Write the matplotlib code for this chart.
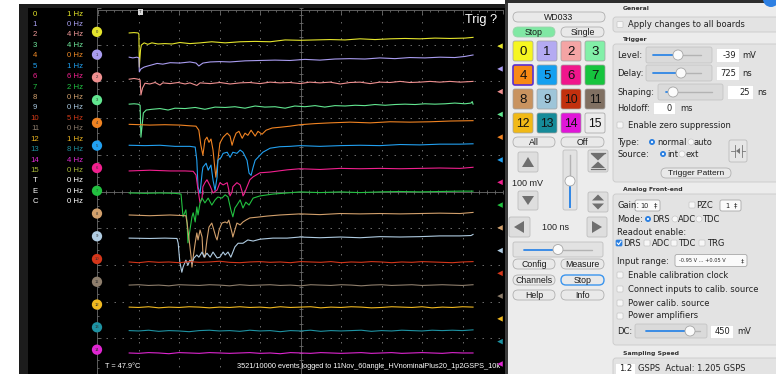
import matplotlib
matplotlib.use("Agg")
import numpy as np
import matplotlib.pyplot as plt
from matplotlib.patches import Rectangle, FancyBboxPatch, Circle, Polygon
from matplotlib.collections import LineCollection

# ---------------------------------------------------------------- data
channel_names = [str(i) for i in range(16)] + ["T", "E", "C"]
channel_rates_hz = [1, 0, 4, 4, 0, 1, 6, 2, 0, 0, 5, 0, 1, 8, 4, 0, 0, 0, 0]
label_colors = ["#e6e62a", "#a9a0f2", "#f29a9a", "#6fe89c", "#f08a26", "#1fa0f0",
                "#f0228e", "#22c444", "#d2a06c", "#a8c8e0", "#d23a18", "#8a7a6a",
                "#f0b822", "#1f909e", "#e02ad2", "#a8b83a", "#ffffff", "#ffffff", "#ffffff"]
trace_colors = ["#e4e42c", "#a99cf0", "#ef9090", "#62e690", "#f08322", "#22a0f0",
                "#f0208e", "#22c040", "#d2a06c", "#b0cce2", "#d4361a", "#8e7e6c",
                "#f0b820", "#1e92a2", "#e026d2"]
button_colors = ["#f6f620", "#b4aaf2", "#f4a4a4", "#82f0a8", "#f88a14", "#14a0f0",
                 "#f0168c", "#16c43e", "#c9935f", "#9ec5d9", "#c2300e", "#807062",
                 "#f1b916", "#168b99", "#e016d8", "#ececec"]

# zero line of each channel on screen (mV)
channel_offset_mv = [435, 373, 311, 249, 187, 125, 64, 2, -60, -122, -184, -246, -308, -370, -431]
trigger_level_mv = -39
trigger_time_ns = 105
mv_per_div = 100
ns_per_div = 100

# traces: (time ns, amplitude mV relative to the channel zero line)
trace_0 = [(77, -3), (89, -2), (99, -3), (101, -6), (102, -96), (105, -49), (107, -36), (114, -30),
           (123, -34), (133, -30), (148, -33), (165, -32), (183, -33), (202, -29), (227, -32),
           (252, -30), (281, -27), (314, -30), (351, -27), (388, -26), (425, -27), (462, -22),
           (499, -23), (536, -22), (573, -21), (610, -22), (647, -19), (684, -21), (721, -19),
           (758, -18), (795, -19), (832, -17), (869, -18), (906, -17), (926, -15)]
trace_1 = [(77, -7), (86, -9), (96, -7), (101, -9), (102, -47), (106, -39), (114, -34), (123, -31),
           (133, -28), (146, -24), (160, -26), (178, -22), (202, -23), (227, -20), (242, -23),
           (249, -31), (259, -23), (277, -20), (301, -19), (326, -20), (363, -17), (400, -16),
           (437, -15), (474, -16), (511, -13), (548, -15), (585, -12), (622, -11), (659, -12),
           (696, -9), (733, -11), (770, -8), (807, -9), (844, -7), (881, -8), (906, -5), (926, -1)]
trace_2 = [(77, -5), (89, -3), (99, -5), (104, -7), (106, -48), (110, -29), (116, -16), (128, -18),
           (141, -14), (153, -21), (160, -15), (178, -17), (198, -14), (215, -18), (227, -15),
           (244, -22), (252, -15), (277, -17), (301, -14), (326, -18), (351, -15), (375, -14),
           (400, -17), (425, -13), (449, -15), (474, -14), (499, -17), (523, -13), (548, -15),
           (573, -13), (598, -18), (622, -14), (647, -13), (672, -17), (696, -13), (721, -14),
           (746, -11), (770, -14), (795, -13), (820, -11), (844, -13), (869, -11), (894, -13),
           (926, -11)]
trace_3 = [(77, -11), (89, -10), (99, -11), (104, -14), (106, -101), (109, -68), (112, -35),
           (119, -27), (133, -25), (153, -23), (173, -27), (190, -22), (215, -23), (240, -20),
           (264, -25), (289, -19), (314, -20), (338, -18), (363, -22), (388, -16), (412, -19),
           (437, -18), (462, -22), (486, -16), (511, -18), (536, -15), (560, -19), (585, -15),
           (610, -16), (635, -14), (659, -15), (684, -12), (709, -14), (733, -12), (758, -11),
           (783, -12), (807, -10), (832, -11), (857, -10), (881, -8), (906, -10), (921, -8),
           (924, -4), (926, -11)]
trace_4 = [(77, -4), (104, -5), (128, -6), (165, -5), (202, -6), (227, -8), (242, -9), (249, -20),
           (254, -61), (259, -88), (264, -47), (269, -39), (274, -53), (279, -44), (284, -74),
           (289, -129), (291, -148), (296, -102), (301, -55), (309, -39), (319, -28), (326, -36),
           (331, -61), (336, -42), (341, -28), (348, -23), (356, -42), (363, -28), (370, -34),
           (378, -20), (388, -36), (395, -23), (405, -31), (415, -20), (430, -14), (449, -12),
           (474, -9), (499, -5), (536, -2), (573, 0), (622, 2), (672, 0), (721, 3), (770, 2),
           (820, 3), (869, 5), (926, 6)]
trace_5 = [(77, 1), (116, 0), (153, 1), (190, -2), (227, -2), (240, -4), (244, -40), (247, -113),
           (252, -130), (257, -75), (259, -59), (267, -48), (272, -67), (279, -53), (284, -94),
           (289, -122), (294, -86), (296, -40), (304, -32), (309, -21), (319, -18), (326, -32),
           (333, -18), (343, -21), (351, -12), (358, -18), (368, -40), (373, -75), (378, -81),
           (383, -59), (388, -40), (395, -32), (407, -18), (425, -7), (449, -3), (474, -2),
           (499, 0), (548, -2), (598, 0), (647, 1), (696, 0), (746, 3), (795, 2), (844, 4),
           (894, 4), (926, 5)]
trace_6 = [(77, -8), (128, -6), (178, -8), (215, -8), (235, -9), (242, -19), (247, -60), (252, -95),
           (257, -81), (259, -51), (264, -40), (269, -32), (277, -49), (284, -68), (294, -60),
           (301, -40), (309, -46), (319, -40), (323, -60), (326, -76), (331, -65), (333, -51),
           (343, -40), (351, -46), (356, -65), (358, -76), (363, -65), (368, -51), (375, -32),
           (383, -24), (400, -13), (425, -11), (467, -5), (499, -2), (548, -4), (598, -1),
           (647, -2), (696, -1), (746, -2), (795, -1), (844, 0), (894, -1), (926, 2)]
trace_7 = [(77, -6), (116, -7), (153, -6), (190, -7), (205, -9), (210, -71), (217, -52), (220, -88),
           (222, -142), (227, -107), (232, -71), (235, -60), (240, -85), (244, -44), (247, -66),
           (252, -33), (257, -20), (264, -33), (272, -20), (281, -39), (289, -25), (296, -17),
           (306, -20), (314, -11), (321, -17), (328, -52), (333, -71), (338, -47), (343, -39),
           (351, -25), (358, -47), (365, -31), (373, -39), (383, -20), (400, -14), (432, -9),
           (467, -6), (499, -3), (548, -5), (598, -3), (647, -5), (696, -3), (746, -2),
           (795, -3), (844, -2), (894, -1), (926, -1)]
trace_8 = [(77, -4), (128, -6), (178, -4), (217, -6), (220, -26), (225, -72), (230, -119),
           (232, -146), (235, -119), (240, -80), (244, -53), (247, -72), (252, -45), (257, -64),
           (259, -108), (264, -119), (269, -72), (274, -37), (281, -26), (284, -37), (291, -64),
           (294, -72), (299, -45), (306, -26), (314, -23), (319, -26), (323, -18), (331, -53),
           (333, -64), (338, -45), (343, -26), (351, -31), (358, -23), (365, -18), (375, -12),
           (393, -10), (417, -7), (449, -4), (499, -1), (548, -3), (598, 0), (647, -1),
           (696, 0), (746, -1), (795, 0), (844, 1), (894, 0), (926, 3)]
trace_9 = [(77, -5), (128, -6), (165, -5), (195, -6), (198, -19), (202, -70), (207, -98),
           (210, -84), (217, -65), (222, -79), (227, -65), (232, -73), (237, -59), (244, -51),
           (249, -57), (257, -43), (262, -57), (269, -46), (277, -57), (284, -43), (289, -51),
           (294, -59), (301, -57), (309, -43), (314, -51), (321, -43), (328, -57), (333, -43),
           (338, -29), (346, -19), (358, -19), (370, -10), (383, -13), (400, -8), (432, -5),
           (467, -5), (499, -2), (548, -4), (598, -2), (647, -4), (696, -1), (746, -2),
           (795, -1), (844, 1), (894, 1), (921, 2), (926, 5)]

# quiet channels sampled on a common time base
quiet_t_ns = [77, 100, 125, 150, 175, 200, 225, 250, 275, 300, 325, 350, 375, 400, 425, 450, 475,
              500, 525, 550, 575, 600, 625, 650, 675, 700, 725, 750, 775, 800, 825, 850, 875, 900, 926]
trace_10_mv = [-8, -10, -7, -9, -8, -10, -7, -9, -8, -6, -9, -10, -8, -7, -9, -8, -10, -7, -8, -9,
               -7, -10, -8, -9, -7, -8, -10, -8, -9, -7, -8, -9, -10, -8, -7]
trace_11_mv = [-9, -8, -10, -9, -11, -8, -9, -10, -8, -9, -11, -8, -10, -9, -8, -10, -9, -11, -8,
               -9, -10, -8, -9, -11, -9, -8, -10, -9, -8, -10, -9, -8, -9, -10, -8]
trace_12_mv = [-7, -8, -6, -9, -7, -8, -6, -7, -9, -7, -8, -6, -8, -7, -9, -6, -8, -7, -6, -9,
               -7, -8, -6, -7, -9, -8, -6, -7, -8, -6, -9, -7, -8, -6, -7]
trace_13_mv = [-9, -10, -8, -11, -9, -10, -12, -9, -8, -10, -9, -11, -8, -10, -9, -12, -9, -10,
               -8, -11, -9, -10, -9, -8, -11, -9, -10, -8, -9, -10, -8, -9, -8, -9, -7]
trace_14_mv = [-9, -10, -8, -9, -11, -8, -9, -10, -8, -9, -10, -9, -8, -10, -9, -11, -8, -9, -10,
               -8, -9, -10, -9, -8, -10, -9, -8, -10, -9, -8, -9, -10, -8, -9, -9]

# ---------------------------------------------------------------- canvas
W, H = 776, 374
fig = plt.figure(figsize=(W / 100, H / 100), dpi=100)
fig.patch.set_facecolor("white")
ui = fig.add_axes([0, 0, 1, 1])
ui.set_xlim(0, W)
ui.set_ylim(H, 0)
ui.axis("off")

SANS = "Liberation Sans"
GUI = "DejaVu Sans"


def rbox(x, y, w, h, fc="#e8e8e8", ec="#b4b4b4", r=3, lw=0.6, z=3):
    ui.add_patch(FancyBboxPatch((x, y), w, h, boxstyle=f"round,pad=0,rounding_size={r}",
                                fc=fc, ec=ec, lw=lw, zorder=z))


def txt(x, y, s, size=6, color="#222222", ha="left", family=GUI, weight="normal", z=6):
    ui.text(x, y, s, fontsize=size, color=color, ha=ha, va="center", family=family,
            fontweight=weight, zorder=z)


def button(x, y, w, h, s, fc="#e9e9e9", ec="#b0b0b0", lw=0.6, size=6.3):
    rbox(x, y, w, h, fc=fc, ec=ec, r=h / 2, lw=lw)
    txt(x + w / 2, y + h / 2 + 0.3, s, size=size, ha="center", family=SANS, color="#1a1a1a")


def tri(pts, color="#6f6f6f"):
    ui.add_patch(Polygon(pts, closed=True, fc=color, ec="none", zorder=6))


def knob(x, y, r=5):
    ui.add_patch(Circle((x, y), r, fc="#fbfbfb", ec="#a6a6a6", lw=0.6, zorder=7))


def hslider(x0, x1, y, xk, blue_from=None):
    if blue_from is not None and xk - 5 > blue_from:
        ui.plot([blue_from, xk - 5], [y, y], color="#2f86e6", lw=1.3, zorder=6, solid_capstyle="round")
    ui.plot([xk + 5, x1], [y, y], color="#b3b3b3", lw=1.0, zorder=6, solid_capstyle="round")
    knob(xk, y)


def checkbox(x, y, checked=False):
    if checked:
        rbox(x - 3, y - 3, 6, 6, fc="#2a7fe0", ec="#2a7fe0", r=1, lw=0.5, z=6)
        ui.plot([x - 1.8, x - 0.4, x + 2.0], [y, y + 1.6, y - 1.8], color="white", lw=0.8, zorder=7)
    else:
        rbox(x - 3, y - 3, 6, 6, fc="#f7f7f7", ec="#c6c6c6", r=1, lw=0.5, z=6)


def radio(x, y, on=False):
    if on:
        ui.add_patch(Circle((x, y), 3, fc="#2a7fe0", ec="none", zorder=6))
        ui.add_patch(Circle((x, y), 1.1, fc="white", ec="none", zorder=7))
    else:
        ui.add_patch(Circle((x, y), 3, fc="#f7f7f7", ec="#c8c8c8", lw=0.5, zorder=6))


def field(x, y, w, h, s):
    ui.add_patch(Rectangle((x, y), w, h, fc="white", ec="#d8d8d8", lw=0.4, zorder=5))
    txt(x + w - 3, y + h / 2, s, size=6, ha="right")


# ---------------------------------------------------------------- backgrounds
ui.add_patch(Rectangle((19, 4), 488, 371, fc="#1c1c1c", ec="none", zorder=0))
ui.add_patch(Rectangle((28, 8), 479, 367, fc="black", ec="none", zorder=0))
ui.add_patch(Rectangle((507, 0), W - 507, H, fc="#ececec", ec="none", zorder=0))
ui.add_patch(Rectangle((505, 0), 3, H, fc="#3a3a3a", ec="none", zorder=0))
ui.add_patch(Rectangle((505, 0), W - 505, 3, fc="#2e2e2e", ec="none", zorder=1))
ui.add_patch(Circle((771, -1), 8, fc="#2d7fe2", ec="none", zorder=2))

# ---------------------------------------------------------------- channel list
for i, (name, rate) in enumerate(zip(channel_names, channel_rates_hz)):
    y = 14 + 10.43 * i
    txt(35, y, name, size=5.6, color=label_colors[i], ha="center", family=SANS)
    txt(83, y, f"{rate} Hz", size=5.6, color=label_colors[i], ha="right", family=SANS)

# ---------------------------------------------------------------- scope
X0, X1, Y0, Y1 = 98, 503, 8, 375
sc = fig.add_axes([X0 / W, (H - Y1) / H, (X1 - X0) / W, (Y1 - Y0) / H])
sc.set_xlim(0, 10 * ns_per_div)
sc.set_ylim(-5 * mv_per_div, 5 * mv_per_div)
sc.patch.set_alpha(0)
sc.axis("off")
ns_px = 10 * ns_per_div / (X1 - X0)
mv_px = 10 * mv_per_div / (Y1 - Y0)

dots = (0, (1.8, 7.8))
for i in range(1, 10):
    if i == 5:
        sc.axvline(i * ns_per_div, color="#6c6c6c", lw=0.6, zorder=1)
        sc.axhline(0, color="#6c6c6c", lw=0.6, zorder=1)
    else:
        sc.axvline(i * ns_per_div, color="#7c7c7c", lw=0.6, ls=dots, zorder=1)
        sc.axhline((i - 5) * mv_per_div, color="#7c7c7c", lw=0.6, ls=dots, zorder=1)

segs = []
for j in range(0, 51):
    t = j * ns_per_div / 5
    segs.append([(t, -2 * mv_px), (t, 2 * mv_px)])
    ln = 4 if j % 5 == 0 else 2
    segs.append([(t, 5 * mv_per_div - 1.5 * mv_px), (t, 5 * mv_per_div - (1.5 + ln) * mv_px)])
    v = (j - 25) * mv_per_div / 5
    segs.append([(500 - 2 * ns_px, v), (500 + 2 * ns_px, v)])
    ln = 4 if j % 5 == 0 else 2
    segs.append([(-1 * ns_px, v), ((ln - 1) * ns_px, v)])
sc.add_collection(LineCollection(segs, colors="#6c6c6c", lw=0.6, zorder=1, clip_on=False))
sc.plot([0, 10 * ns_per_div], [5 * mv_per_div - 1.5 * mv_px] * 2, color="#6c6c6c", lw=0.6, clip_on=False)
sc.plot([-1 * ns_px] * 2, [-5 * mv_per_div, 5 * mv_per_div], color="#6c6c6c", lw=0.6, clip_on=False)

traces = [trace_0, trace_1, trace_2, trace_3, trace_4, trace_5, trace_6, trace_7, trace_8, trace_9]
for k, tr in enumerate(traces):
    t, v = zip(*tr)
    sc.plot(t, np.array(v) + channel_offset_mv[k], color=trace_colors[k], lw=0.8, zorder=3)
quiet = [trace_10_mv, trace_11_mv, trace_12_mv, trace_13_mv, trace_14_mv]
for j, v in enumerate(quiet):
    k = 10 + j
    sc.plot(quiet_t_ns, np.array(v) + channel_offset_mv[k], color=trace_colors[k], lw=0.8, zorder=3)

# channel position handles and trigger level markers
for k, off in enumerate(channel_offset_mv):
    sc.scatter([-1 * ns_px], [off], s=55, color=trace_colors[k], edgecolors="none", zorder=5, clip_on=False)
    sc.text(-1 * ns_px, off, str(k), fontsize=3.0, ha="center", va="center", color="#333333",
            zorder=6, clip_on=False, family=SANS)
    sc.scatter([10 * ns_per_div - 3 * ns_px], [off + trigger_level_mv], marker="<", s=16,
               color=trace_colors[k], edgecolors="none", zorder=5, clip_on=False)

# trigger position tag
sc.scatter([trigger_time_ns], [5 * mv_per_div - 4 * mv_px], marker="s", s=14, color="#d8d8d8",
           edgecolors="none", zorder=6, clip_on=False)
sc.text(trigger_time_ns, 5 * mv_per_div - 4 * mv_px, "T", fontsize=3.2, ha="center", va="center",
        color="#333333", zorder=7, clip_on=False, family=SANS)

txt(497, 20, "Trig ?", size=9.2, color="white", ha="right", family=SANS)
txt(105, 366, "T = 47.9°C", size=5.3, color="white", family=SANS)
txt(237, 366, "3521/10000 events logged to 11Nov_60angle_HVnominalPlus20_1p2GSPS_10k",
    size=5.3, color="white", family=SANS)

# ---------------------------------------------------------------- control column
button(513, 12, 92, 10, "WD033")
button(513, 27, 42, 10, "Stop", fc="#80e8a4", ec="#9bd4ac")
button(561, 27, 43, 10, "Single")
for n in range(16):
    r, c = divmod(n, 4)
    x, y = 513 + 24 * c, 41 + 24 * r
    if n == 4:
        rbox(x, y, 20, 20, fc=button_colors[n], ec="#5a2fcf", r=2, lw=1.2, z=4)
    else:
        rbox(x, y, 20, 20, fc=button_colors[n], ec="#a0a0a0", r=2, lw=0.5, z=4)
    txt(x + 10, y + 10.5, str(n), size=9.5 if n < 10 else 8.8, ha="center", family=SANS, color="#111111")
button(513, 137, 42, 10, "All")
button(561, 137, 43, 10, "Off")

rbox(518, 152, 20, 20, fc="#dedede", ec="#bdbdbd", r=2)
tri([(522, 167), (534, 167), (528, 157)])
txt(527, 183, "100 mV", size=6.5, ha="center", family=SANS)
rbox(518, 191, 20, 19, fc="#dedede", ec="#bdbdbd", r=2)
tri([(522, 196), (534, 196), (528, 205)])

rbox(563, 150, 14, 60, fc="#e2e2e2", ec="#c0c0c0", r=2)
ui.plot([570, 570], [155, 176], color="#b3b3b3", lw=1.0, zorder=6)
ui.plot([570, 570], [186, 207], color="#2f86e6", lw=1.4, zorder=6)
knob(570, 181)

rbox(588, 150, 20, 22, fc="#dedede", ec="#bdbdbd", r=2)
ui.plot([591, 605], [153, 153], color="#6f6f6f", lw=0.9, zorder=6)
ui.plot([591, 605], [169, 169], color="#6f6f6f", lw=0.9, zorder=6)
tri([(591, 154), (605, 154), (598, 160.5)])
tri([(591, 168), (605, 168), (598, 161.5)])
rbox(588, 192, 20, 20, fc="#dedede", ec="#bdbdbd", r=2)
tri([(592, 200.5), (604, 200.5), (598, 194.5)])
tri([(592, 203.5), (604, 203.5), (598, 209.5)])

rbox(509, 217, 21, 20, fc="#dedede", ec="#bdbdbd", r=2)
tri([(524, 221), (524, 233), (514, 227)])
txt(555, 227, "100 ns", size=6.5, ha="center", family=SANS)
rbox(587, 217, 20, 20, fc="#dedede", ec="#bdbdbd", r=2)
tri([(592, 221), (592, 233), (602, 227)])

rbox(513, 242, 90, 15, fc="#e2e2e2", ec="#c0c0c0", r=2)
hslider(513, 592, 249.5, 558, blue_from=524)

button(513, 259, 42, 10, "Config")
button(561, 259, 43, 10, "Measure")
button(513, 275, 42, 10, "Channels")
button(561, 275, 43, 10, "Stop", ec="#3b95ee", lw=1.0)
button(513, 290, 42, 10, "Help")
button(561, 290, 43, 10, "Info")

# ---------------------------------------------------------------- settings column
BOX = dict(fc="#e3e3e3", ec="#c9c9c9", r=3, lw=0.6, z=1)
txt(623, 8, "General", size=4.4, weight="bold", color="#333333")
rbox(613, 17, 180, 15, **BOX)
checkbox(620, 24.5)
txt(628, 24.5, "Apply changes to all boards")

txt(623, 39, "Trigger", size=4.4, weight="bold", color="#333333")
rbox(613, 44, 180, 138, **BOX)
txt(617, 55, "Level:")
rbox(646, 47, 66, 16, fc="#dadada", ec="#c4c4c4", r=2, z=4)
hslider(646, 701, 55, 678, blue_from=653)
field(716, 48, 23, 14, "-39")
txt(742, 55, "mV")
txt(617, 73, "Delay:")
rbox(646, 65, 66, 16, fc="#dadada", ec="#c4c4c4", r=2, z=4)
hslider(646, 701, 73, 681, blue_from=653)
field(716, 66, 23, 14, "725")
txt(742, 73, "ns")
txt(617, 92, "Shaping:")
rbox(658, 84, 65, 16, fc="#dadada", ec="#c4c4c4", r=2, z=4)
hslider(658, 712, 92, 673, blue_from=666)
field(727, 85, 26, 14, "25")
txt(757, 92, "ns")
txt(617, 108, "Holdoff:")
field(653, 102, 22, 12, "0")
txt(680, 108, "ms")
checkbox(620, 125)
txt(628, 125, "Enable zero suppression")
txt(617, 142, "Type:")
radio(652, 142, True)
txt(657, 142, "normal")
radio(691, 142)
txt(694, 142, "auto")
txt(617, 154, "Source:")
radio(663, 154, True)
txt(667, 154, "int")
radio(682, 154)
txt(685, 154, "ext")
rbox(729, 140, 18, 22, fc="#e6e6e6", ec="#bcbcbc", r=2, z=4)
ui.plot([731, 734.5], [151, 151], color="#777777", lw=0.6, zorder=6)
ui.plot([741.5, 745], [151, 151], color="#777777", lw=0.6, zorder=6)
ui.plot([734.5, 734.5], [145, 157], color="#777777", lw=0.6, zorder=6)
ui.plot([741.5, 741.5], [145, 157], color="#777777", lw=0.6, zorder=6)
tri([(740, 148), (740, 154), (736, 151)], color="#777777")
button(661, 168, 70, 10, "Trigger Pattern", size=6.0)

txt(623, 189, "Analog Front-end", size=4.4, weight="bold", color="#333333")
rbox(613, 194, 180, 151, **BOX)
txt(617, 205, "Gain:")
rbox(635, 200, 25, 11, fc="#fafafa", ec="#a8a8a8", r=2, z=4)
txt(640, 205.5, "10", size=4.8)
txt(655, 205.5, "‡", size=4.8, ha="center")
checkbox(692, 205)
txt(696, 205, "PZC")
rbox(720, 200, 21, 11, fc="#fafafa", ec="#a8a8a8", r=2, z=4)
txt(725, 205.5, "1", size=4.8)
txt(736, 205.5, "‡", size=4.8, ha="center")
txt(617, 219, "Mode:")
radio(648, 219, True)
txt(652, 219, "DRS")
radio(675, 219)
txt(678, 219, "ADC")
radio(699, 219)
txt(702, 219, "TDC")
txt(617, 232, "Readout enable:")
checkbox(619, 243, True)
txt(623, 243, "DRS")
checkbox(647, 243)
txt(652, 243, "ADC")
checkbox(674, 243)
txt(678, 243, "TDC")
checkbox(702, 243)
txt(707, 243, "TRG")
txt(617, 261, "Input range:")
rbox(675, 254.5, 72, 12, fc="#fafafa", ec="#a8a8a8", r=2, z=4)
txt(679, 260.8, "-0.95 V ... +0.05 V", size=3.6)
txt(742, 260.8, "‡", size=4.6, ha="center")
for yy, s in [(275, "Enable calibration clock"), (289, "Connect inputs to calib. source"),
              (303, "Power calib. source"), (316, "Power amplifiers")]:
    checkbox(620, yy)
    txt(628, yy, s)
txt(617, 331, "DC:")
rbox(635, 324, 72, 14, fc="#dadada", ec="#c4c4c4", r=2, z=4)
hslider(635, 700, 331, 690, blue_from=646)
field(710, 325, 23, 13, "450")
txt(737, 331, "mV")

txt(623, 353, "Sampling Speed", size=4.4, weight="bold", color="#333333")
rbox(613, 358, 180, 25, **BOX)
field(615, 363, 20, 11, "1.2")
txt(638, 368.5, "GSPS  Actual: 1.205 GSPS")

fig.savefig("out.png", dpi=100, facecolor=fig.get_facecolor())
